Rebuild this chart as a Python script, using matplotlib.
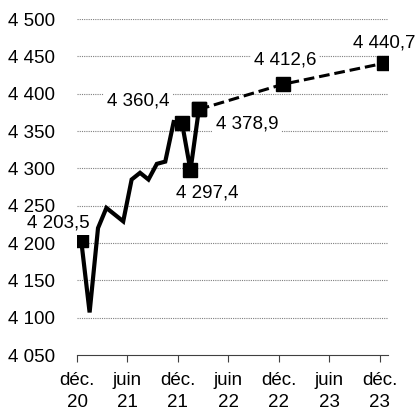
import matplotlib
matplotlib.use("Agg")
import matplotlib.pyplot as plt
import numpy as np

plt.rcParams['font.family'] = ['Liberation Sans', 'DejaVu Sans']

# Data (month index: 0 = déc. 2020)
obs_months = list(range(0, 15))  # déc. 20 .. févr. 22
obs_values = [4203.5, 4107, 4220, 4247, 4238, 4229, 4285, 4294, 4285,
              4306, 4309, 4362, 4360.4, 4297.4, 4378.9]
obs_marked = [0, 12, 13, 14]

fc_months = [14, 24, 36]
fc_values = [4378.9, 4412.6, 4440.7]

tick_pos = [0, 6, 12, 18, 24, 30, 36]
tick_labels = ["déc.\n20", "juin\n21", "déc.\n21", "juin\n22",
               "déc.\n22", "juin\n23", "déc.\n23"]
yticks = [4050, 4100, 4150, 4200, 4250, 4300, 4350, 4400, 4450, 4500]

W, H = 419, 411
fig = plt.figure(figsize=(W / 100, H / 100), dpi=100)
ax = fig.add_axes([77 / W, 1 - 355 / H, (388 - 77) / W, (355 - 19) / H])

ax.set_xlim(0, 37)
ax.set_ylim(4050, 4500)

for y in yticks[1:]:
    ax.axhline(y, color='#7f7f7f', lw=0.8, ls=(0, (1, 1)), zorder=0)

xo = np.array(obs_months) + 0.5
ax.plot(xo, obs_values, color='black', lw=3, solid_joinstyle='miter', zorder=3)
ax.plot(xo[obs_marked], [obs_values[i] for i in obs_marked], ls='none',
        marker='s', ms=9.5, color='black', zorder=4)

xf = np.array(fc_months) + 0.5
ax.plot(xf, fc_values, color='black', lw=2.2, ls=(0, (3.5, 1.6)), marker='s',
        ms=9.5, zorder=3)

fs = 13.5
def lab(x, y, dx, dy):
    txt = f"{y:,.1f}".replace(",", " ").replace(".", ",")
    ax.annotate(txt, (x, y), xytext=(dx * 0.72, dy * 0.72), textcoords='offset points',
                ha='center', va='center', fontsize=fs, zorder=5,
                bbox=dict(boxstyle='square,pad=0.15', fc='white', ec='none'))

lab(0.5, 4203.5, -23, 17)
lab(12.5, 4360.4, -44, 22.5)
lab(13.5, 4297.4, 17, -23)
lab(14.5, 4378.9, 48.5, -14.5)
lab(24.5, 4412.6, 2.5, 24.5)
lab(36.5, 4440.7, 0, 20)

ax.set_yticks(yticks)
ax.set_yticklabels([f"{v:,}".replace(",", " ") for v in yticks], fontsize=fs)
ax.tick_params(axis='y', length=0, pad=16)
ax.set_xticks(tick_pos)
ax.set_xticklabels(tick_labels, fontsize=fs, linespacing=1.4)
ax.tick_params(axis='x', length=5, width=0.8, color='#404040', pad=7)

for s in ['top', 'right', 'left']:
    ax.spines[s].set_visible(False)
ax.spines['bottom'].set_color('#404040')
ax.spines['bottom'].set_linewidth(0.8)

fig.savefig("out.png", dpi=100)
